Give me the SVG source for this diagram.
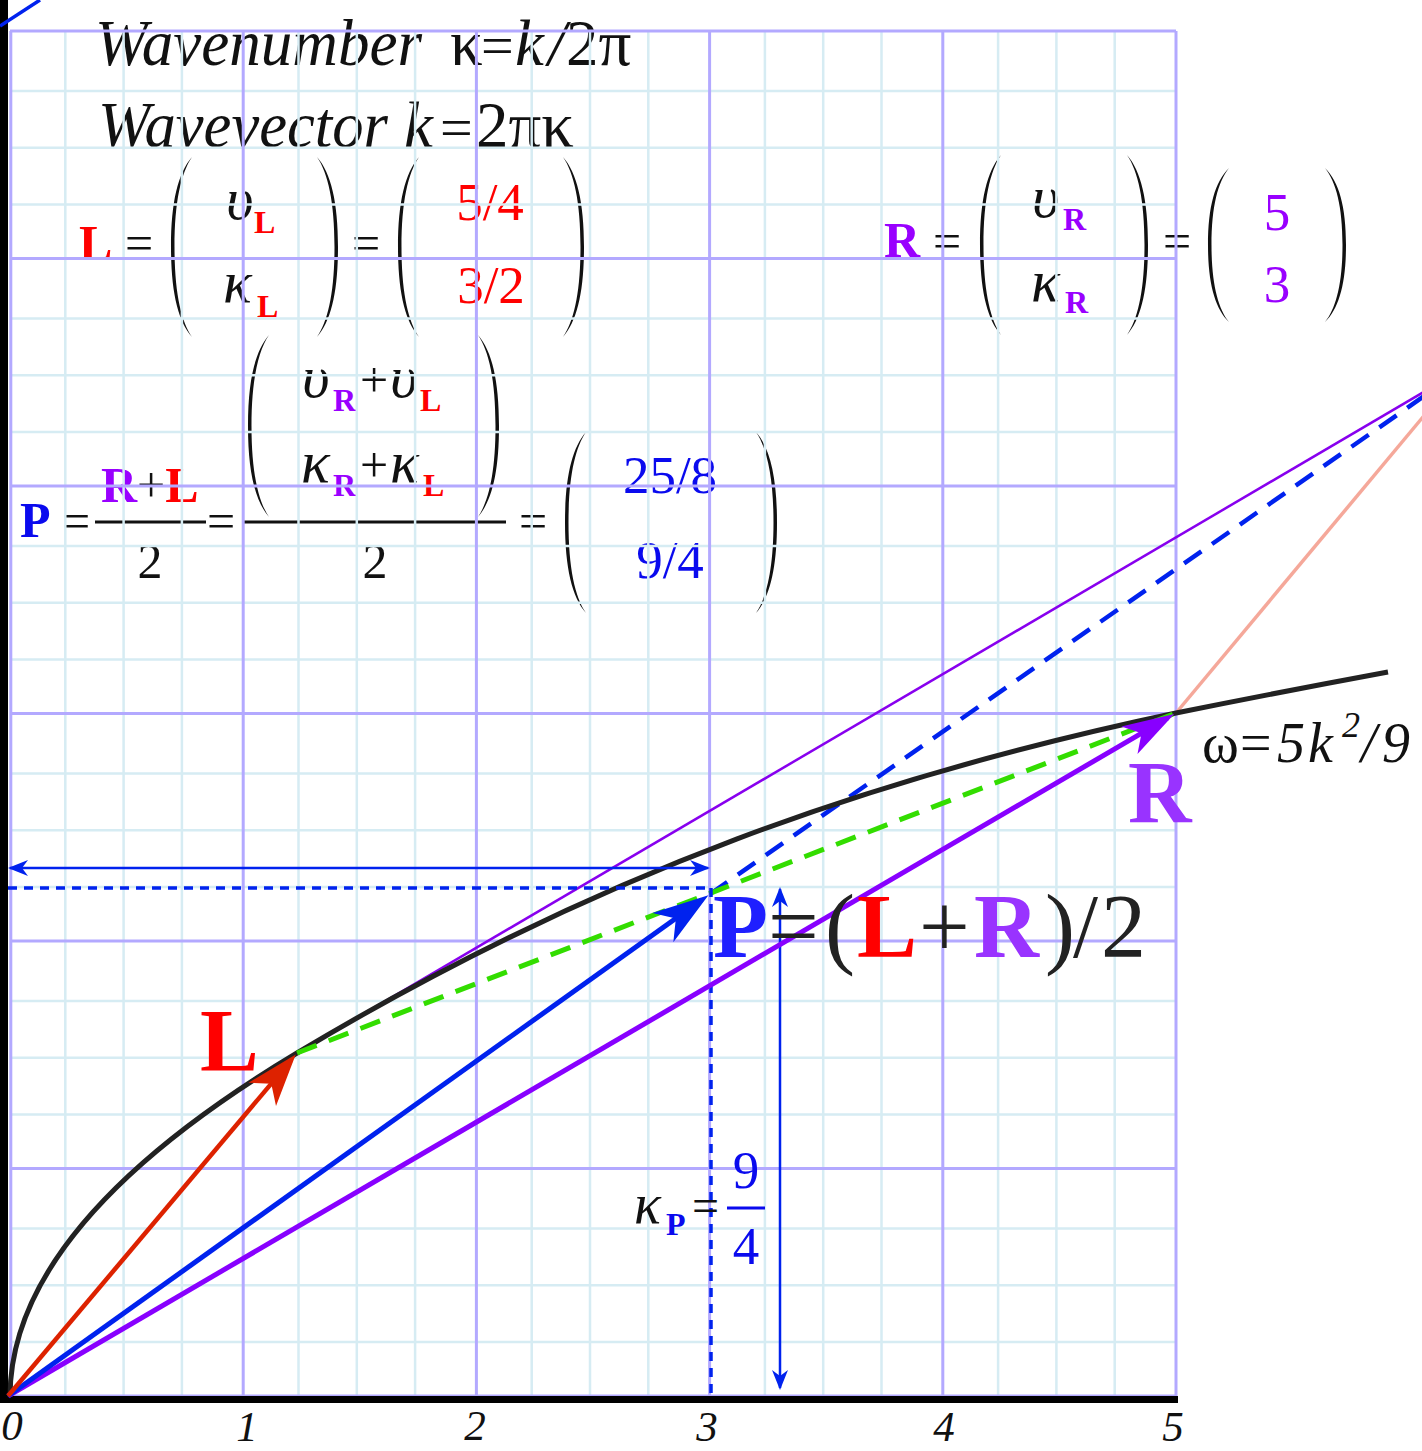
<svg xmlns="http://www.w3.org/2000/svg" width="1422" height="1451" viewBox="0 0 1422 1451">
<defs>
<style>
text { font-family: "Liberation Serif", "Times New Roman", serif; fill: #111; }
.it { font-style: italic; }
.b { font-weight: bold; }
.red { fill: #ff0000; }
.pur { fill: #9900ff; }
.pur2 { fill: #9933ff; }
.blu { fill: #0a0aee; }
.eq { font-size: 50px; }
.gr { font-size: 60px; font-style: italic; }
.sub { font-size: 32px; font-weight: bold; }
.num { font-size: 53px; text-anchor: middle; }
.minor { stroke: #d6ecf3; stroke-width: 2.5; fill: none; }
.major { stroke: #b3a9ff; stroke-width: 3; fill: none; }
.fl { stroke: #111; stroke-width: 3; }
</style>
<path id="lparen" d="M22,0 C8,16 1,45 1,90 C1,135 8,164 22,180 C11,164 4.5,135 4.5,90 C4.5,45 11,16 22,0 Z" fill="#111"/>
<marker id="ahRed" markerUnits="userSpaceOnUse" orient="auto" viewBox="-60 -25 70 50" markerWidth="70" markerHeight="50" refX="-8" refY="0">
<path d="M0,0 L-52,-18 L-38,0 L-52,18 Z" fill="#dd2200"/>
</marker>
<marker id="ahBlue" markerUnits="userSpaceOnUse" orient="auto" viewBox="-60 -25 70 50" markerWidth="70" markerHeight="50" refX="-8" refY="0">
<path d="M0,0 L-56,-18 L-40,0 L-56,18 Z" fill="#0022ee"/>
</marker>
<marker id="ahPur" markerUnits="userSpaceOnUse" orient="auto" viewBox="-60 -25 70 50" markerWidth="70" markerHeight="50" refX="-8" refY="0">
<path d="M0,0 L-52,-16 L-38,0 L-52,16 Z" fill="#8800ff"/>
</marker>
<marker id="ahSm" markerUnits="userSpaceOnUse" orient="auto-start-reverse" viewBox="-25 -12 30 24" markerWidth="30" markerHeight="24" refX="-2" refY="0">
<path d="M0,0 L-20,-8 L-14,0 L-20,8 Z" fill="#0022ee"/>
</marker>
</defs>
<rect width="1422" height="1451" fill="#ffffff"/>

<!-- equations (drawn under the grid) -->
<g id="title">
<text y="65" font-size="65"><tspan x="95" class="it" textLength="327" lengthAdjust="spacingAndGlyphs">Wavenumber</tspan><tspan x="450">κ</tspan><tspan x="481" font-size="58">=</tspan><tspan x="515" class="it">k</tspan><tspan x="548" class="it">/</tspan><tspan x="566">2π</tspan></text>
<text y="147" font-size="65"><tspan x="98" class="it" textLength="290" lengthAdjust="spacingAndGlyphs">Wavevector</tspan><tspan x="404" class="it">k</tspan><tspan x="440" font-size="58">=</tspan><tspan x="476">2πκ</tspan></text>
</g>

<g id="eq-L">
<text x="79" y="260" class="eq b red">L</text>
<text x="125" y="260" class="eq">=</text>
<use href="#lparen" transform="translate(170,157)"/>
<use href="#lparen" transform="translate(339,157) scale(-1,1)"/>
<text x="226" y="219" class="gr">υ</text><text x="254" y="233" class="sub red">L</text>
<text x="223" y="302" class="gr">κ</text><text x="257" y="317" class="sub red">L</text>
<text x="352" y="260" class="eq">=</text>
<use href="#lparen" transform="translate(397,157)"/>
<use href="#lparen" transform="translate(585,157) scale(-1,1)"/>
<text x="490" y="220" class="num red">5/4</text>
<text x="491" y="303" class="num red">3/2</text>
</g>

<g id="eq-R">
<text x="884" y="257" class="eq b pur">R</text>
<text x="933" y="258" class="eq">=</text>
<use href="#lparen" transform="translate(979,155)"/>
<use href="#lparen" transform="translate(1149,155) scale(-1,1)"/>
<text x="1032" y="217" class="gr">υ</text><text x="1063" y="230" class="sub pur">R</text>
<text x="1031" y="301" class="gr">κ</text><text x="1065" y="313" class="sub pur">R</text>
<text x="1163" y="258" class="eq">=</text>
<use href="#lparen" transform="translate(1207,168) scale(1,0.856)"/>
<use href="#lparen" transform="translate(1347,168) scale(-1,0.856)"/>
<text x="1277" y="230" class="num pur" font-size="56">5</text>
<text x="1277" y="302" class="num pur" font-size="56">3</text>
</g>

<g id="eq-P">
<text x="20" y="537" class="eq b blu" font-size="52">P</text>
<text x="62" y="538" class="eq">=</text>
<text x="101" y="502" class="eq"><tspan class="b pur">R</tspan><tspan>+</tspan><tspan class="b red">L</tspan></text>
<line x1="95" y1="522" x2="206" y2="522" class="fl"/>
<text x="150" y="578" class="eq" text-anchor="middle">2</text>
<text x="207" y="538" class="eq">=</text>
<use href="#lparen" transform="translate(247,335) scale(1,1.011)"/>
<use href="#lparen" transform="translate(500,335) scale(-1,1.011)"/>
<text x="302" y="397" class="gr">υ</text><text x="333" y="411" class="sub pur">R</text>
<text x="360" y="397" class="eq">+</text>
<text x="390" y="397" class="gr">υ</text><text x="420" y="411" class="sub red">L</text>
<text x="301" y="482" class="gr">κ</text><text x="333" y="496" class="sub pur">R</text>
<text x="360" y="482" class="eq">+</text>
<text x="390" y="482" class="gr">κ</text><text x="423" y="496" class="sub red">L</text>
<line x1="242" y1="522" x2="506" y2="522" class="fl"/>
<text x="375" y="578" class="eq" text-anchor="middle">2</text>
<text x="519" y="538" class="eq">=</text>
<use href="#lparen" transform="translate(564,432) scale(1,1.006)"/>
<use href="#lparen" transform="translate(778,432) scale(-1,1.006)"/>
<text x="670" y="493" class="num blu">25/8</text>
<text x="670" y="578" class="num blu">9/4</text>
</g>

<!-- grid -->
<g id="grid">
<path class="minor" d="M65.3,31V1396M123.6,31V1396M181.9,31V1396M298.5,31V1396M356.8,31V1396M415.1,31V1396M531.7,31V1396M590,31V1396M648.3,31V1396M764.9,31V1396M823.2,31V1396M881.5,31V1396M998.1,31V1396M1056.4,31V1396M1114.7,31V1396
M10,1342.1H1176M10,1285.3H1176M10,1228.4H1176M10,1114.6H1176M10,1057.8H1176M10,1000.9H1176M10,887.1H1176M10,830.3H1176M10,773.4H1176M10,659.6H1176M10,602.8H1176M10,545.9H1176M10,432.1H1176M10,375.3H1176M10,318.4H1176M10,204.6H1176M10,147.8H1176M10,90.9H1176"/>
<path class="major" d="M10.8,31V1396M243.2,31V1396M476.4,31V1396M709.6,31V1396M942.8,31V1396M1176,31V1396
M10,31H1176M10,258.5H1176M10,486H1176M10,713.5H1176M10,941H1176M10,1168.5H1176M10,1396H1176"/>
</g>

<g id="axes">
<rect x="0" y="0" width="8" height="1403" fill="#000"/>
<rect x="0" y="1396" width="1178" height="7" fill="#000"/>
<g font-size="43">
<text x="12" y="1440" class="it" text-anchor="middle">0</text>
<text x="247" y="1441" class="it" text-anchor="middle">1</text>
<text x="475" y="1440" class="it" text-anchor="middle">2</text>
<text x="707" y="1441" class="it" text-anchor="middle">3</text>
<text x="944" y="1441" class="it" text-anchor="middle">4</text>
<text x="1173" y="1441" class="it" text-anchor="middle">5</text>
</g>
</g>

<!-- connectors -->
<g id="connectors" fill="none">
<line x1="0" y1="26" x2="40" y2="0" stroke="#0022ee" stroke-width="3.5"/>
<line x1="297" y1="1053" x2="1463" y2="369" stroke="#8800ee" stroke-width="2.5"/>
<line x1="1176" y1="713" x2="1463" y2="369" stroke="#f5a89a" stroke-width="3.5"/>
<line x1="710" y1="894" x2="1463" y2="369" stroke="#0022ee" stroke-width="4.5" stroke-dasharray="21 13"/>
<path d="M10,1397 Q10,1225 297,1053 C597,873 876,776 1176,713 Q1280,692 1388,672" stroke="#222" stroke-width="5"/>
<line x1="297" y1="1053" x2="1176" y2="713" stroke="#33dd00" stroke-width="5" stroke-dasharray="21 13"/>
<line x1="8" y1="888" x2="711" y2="888" stroke="#0022ee" stroke-width="3.5" stroke-dasharray="9 7"/>
<line x1="711" y1="888" x2="711" y2="1396" stroke="#0022ee" stroke-width="3.5" stroke-dasharray="9 7"/>
<line x1="10" y1="868" x2="708" y2="868" stroke="#0022ee" stroke-width="2.5" marker-start="url(#ahSm)" marker-end="url(#ahSm)"/>
<line x1="780" y1="889" x2="780" y2="1388" stroke="#0022ee" stroke-width="2.5" marker-start="url(#ahSm)" marker-end="url(#ahSm)"/>
<line x1="8" y1="1396" x2="1167.4" y2="718.1" stroke="#8800ff" stroke-width="5" marker-end="url(#ahPur)"/>
<line x1="8" y1="1396" x2="701.9" y2="899.8" stroke="#0022ee" stroke-width="5" marker-end="url(#ahBlue)"/>
<line x1="8" y1="1396" x2="290.6" y2="1060.7" stroke="#dd2200" stroke-width="4.5" marker-end="url(#ahRed)"/>
</g>

<!-- labels -->
<g id="node-L">
<text x="200" y="1070" font-size="88" class="b red">L</text>
</g>
<g id="node-R">
<text x="1128" y="822" font-size="88" class="b pur2">R</text>
</g>
<g id="node-P">
<text y="957" font-size="90"><tspan x="713" class="b" fill="#1f1fff">P</tspan><tspan x="768" fill="#222">=</tspan><tspan x="825" fill="#222">(</tspan><tspan x="857" class="b red">L</tspan><tspan x="919" fill="#222">+</tspan><tspan x="974" class="b pur2">R</tspan><tspan x="1045" fill="#222">)</tspan><tspan x="1073" fill="#222">/</tspan><tspan x="1101" fill="#222">2</tspan></text>
</g>
<g id="label-omega">
<text y="762" font-size="56"><tspan x="1202">ω</tspan><tspan x="1240">=</tspan><tspan x="1277" class="it">5</tspan><tspan x="1308" class="it">k</tspan><tspan x="1342" y="737" font-size="36" class="it">2</tspan><tspan x="1361" y="762" class="it">/</tspan><tspan x="1382" y="762" class="it">9</tspan></text>
</g>
<g id="label-kappaP">
<text x="634" y="1223" font-size="56" class="it">κ</text>
<text x="666" y="1235" class="sub blu">P</text>
<text x="692" y="1222" font-size="48">=</text>
<line x1="727" y1="1208" x2="765" y2="1208" stroke="#0a0aee" stroke-width="3"/>
<text x="746" y="1188" class="num blu">9</text>
<text x="746" y="1264" class="num blu">4</text>
</g>
</svg>
